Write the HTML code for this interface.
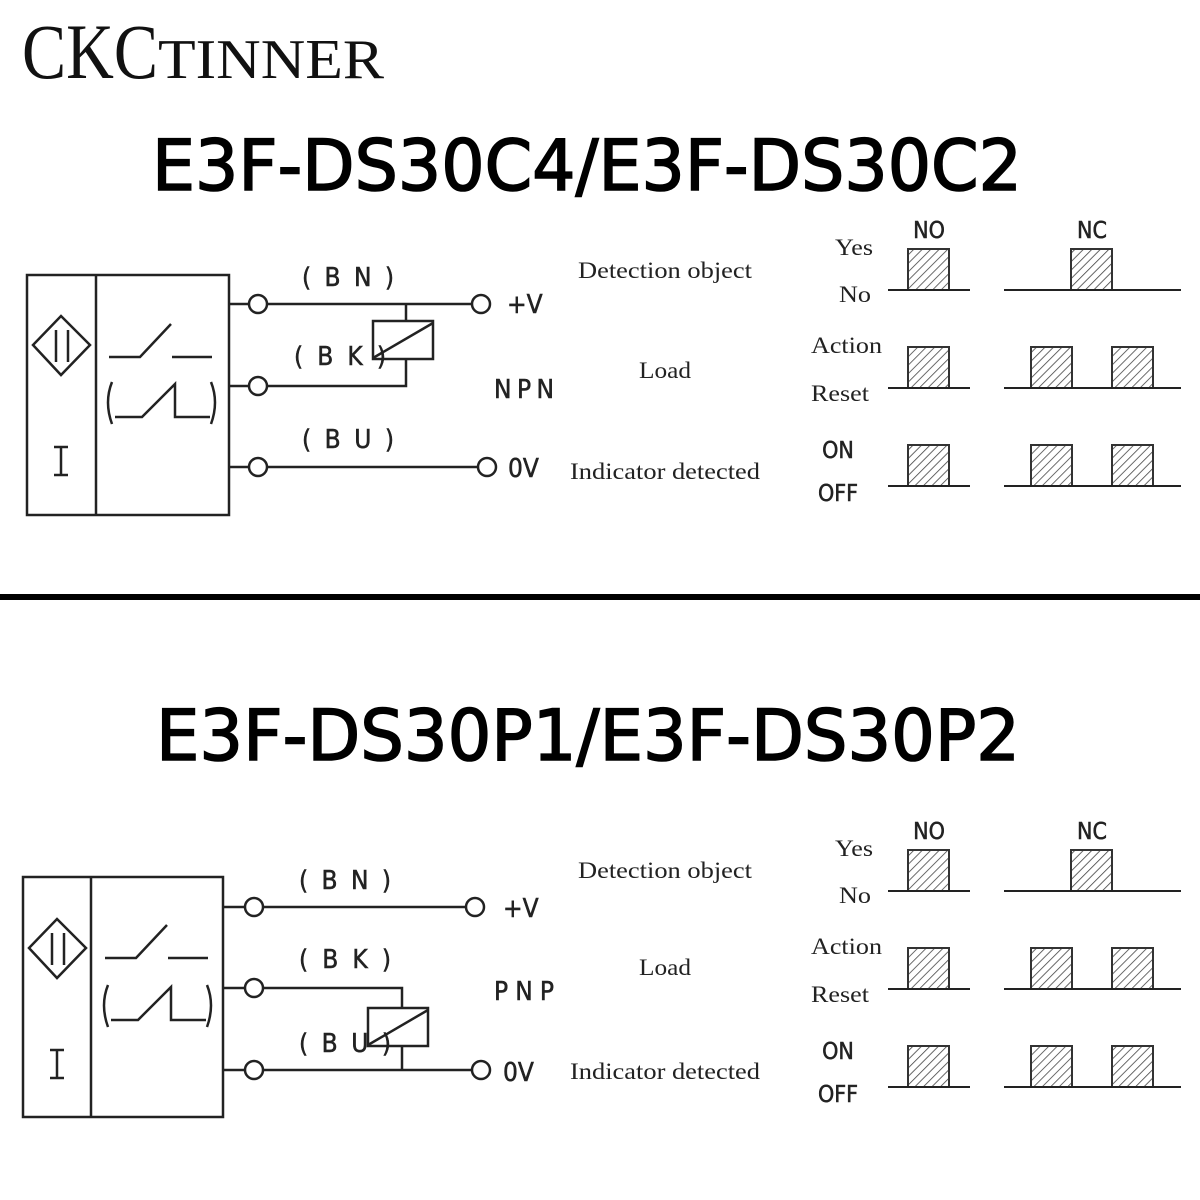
<!DOCTYPE html>
<html><head><meta charset="utf-8"><style>
html,body{margin:0;padding:0;background:#fff;}
svg{display:block;}
.s{font-family:"Liberation Serif",serif;}
.m{font-family:"DejaVu Sans Condensed","Liberation Sans",sans-serif;}
</style></head><body>
<svg width="1200" height="1200" viewBox="0 0 1200 1200" xmlns="http://www.w3.org/2000/svg">
<defs>
<pattern id="h" patternUnits="userSpaceOnUse" width="6" height="6" patternTransform="rotate(45)">
<rect width="6" height="6" fill="#fff"/><line x1="0" y1="0" x2="0" y2="6" stroke="#444" stroke-width="1.6"/>
</pattern>
</defs>
<rect width="1200" height="1200" fill="#fff"/>
<text x="22" y="78" class="s" font-size="78" fill="#111" textLength="136" lengthAdjust="spacingAndGlyphs">CKC</text>
<text x="158" y="78" class="s" font-size="56" fill="#111" textLength="226" lengthAdjust="spacingAndGlyphs">TINNER</text>
<text x="152" y="190" font-family="DejaVu Sans,sans-serif" font-size="70" fill="#000" stroke="#000" stroke-width="1.6" textLength="870" lengthAdjust="spacingAndGlyphs">E3F-DS30C4/E3F-DS30C2</text>
<text x="156" y="760" font-family="DejaVu Sans,sans-serif" font-size="70" fill="#000" stroke="#000" stroke-width="1.6" textLength="864" lengthAdjust="spacingAndGlyphs">E3F-DS30P1/E3F-DS30P2</text>
<rect x="0" y="594" width="1200" height="6" fill="#000"/>

<!-- TOP circuit -->
<g fill="none" stroke="#222" stroke-width="2.5">
<rect x="27" y="275" width="202" height="240"/>
<line x1="96" y1="275" x2="96" y2="515"/>
<polygon points="61,316 90,345 61,375 33,345"/>
<line x1="56" y1="330" x2="56" y2="362"/><line x1="68" y1="330" x2="68" y2="362"/>
<polyline points="109,357 140,357 171,324"/><line x1="172" y1="357" x2="212" y2="357"/>
<path d="M112 382 Q104 402 112 424"/><path d="M211 382 Q219 402 211 424"/>
<polyline points="115,417 142,417 175,384 175,417 210,417"/>
<line x1="54" y1="447" x2="68" y2="447"/><line x1="61" y1="447" x2="61" y2="475"/><line x1="54" y1="475" x2="68" y2="475"/>
<line x1="229" y1="304" x2="249" y2="304"/><circle cx="258" cy="304" r="9"/><line x1="267" y1="304" x2="472" y2="304"/><circle cx="481" cy="304" r="9"/>
<line x1="229" y1="386" x2="249" y2="386"/><circle cx="258" cy="386" r="9"/><polyline points="267,386 406,386 406,359"/>
<line x1="406" y1="304" x2="406" y2="321"/>
<rect x="373" y="321" width="60" height="38"/><line x1="373" y1="358" x2="433" y2="323"/>
<line x1="229" y1="467" x2="249" y2="467"/><circle cx="258" cy="467" r="9"/><line x1="267" y1="467" x2="478" y2="467"/><circle cx="487" cy="467" r="9"/>
</g>
<g class="m" fill="#222" font-size="26" stroke="#222" stroke-width="0.5">
<text x="348" y="286" text-anchor="middle" textLength="92" lengthAdjust="spacing">( B N )</text>
<text x="340" y="365" text-anchor="middle" textLength="92" lengthAdjust="spacing">( B K )</text>
<text x="348" y="448" text-anchor="middle" textLength="92" lengthAdjust="spacing">( B U )</text>
<text x="507" y="313">+V</text>
<text x="508" y="477">0V</text>
<text x="494" y="398" textLength="60" lengthAdjust="spacing">NPN</text>
</g>
<!-- BOTTOM circuit -->
<g fill="none" stroke="#222" stroke-width="2.5">
<rect x="23" y="877" width="200" height="240"/>
<line x1="91" y1="877" x2="91" y2="1117"/>
<polygon points="57,919 86,948 57,978 29,948"/>
<line x1="52" y1="933" x2="52" y2="965"/><line x1="64" y1="933" x2="64" y2="965"/>
<polyline points="105,958 136,958 167,925"/><line x1="168" y1="958" x2="208" y2="958"/>
<path d="M108 985 Q100 1005 108 1027"/><path d="M207 985 Q215 1005 207 1027"/>
<polyline points="111,1020 138,1020 171,987 171,1020 206,1020"/>
<line x1="50" y1="1050" x2="64" y2="1050"/><line x1="57" y1="1050" x2="57" y2="1078"/><line x1="50" y1="1078" x2="64" y2="1078"/>
<line x1="223" y1="907" x2="245" y2="907"/><circle cx="254" cy="907" r="9"/><line x1="263" y1="907" x2="466" y2="907"/><circle cx="475" cy="907" r="9"/>
<line x1="223" y1="988" x2="245" y2="988"/><circle cx="254" cy="988" r="9"/><polyline points="263,988 402,988 402,1008"/>
<rect x="368" y="1008" width="60" height="38"/><line x1="368" y1="1045" x2="428" y2="1010"/>
<line x1="402" y1="1046" x2="402" y2="1070"/>
<line x1="223" y1="1070" x2="245" y2="1070"/><circle cx="254" cy="1070" r="9"/><line x1="263" y1="1070" x2="472" y2="1070"/><circle cx="481" cy="1070" r="9"/>
</g>
<g class="m" fill="#222" font-size="26" stroke="#222" stroke-width="0.5">
<text x="345" y="889" text-anchor="middle" textLength="92" lengthAdjust="spacing">( B N )</text>
<text x="345" y="968" text-anchor="middle" textLength="92" lengthAdjust="spacing">( B K )</text>
<text x="345" y="1052" text-anchor="middle" textLength="92" lengthAdjust="spacing">( B U )</text>
<text x="503" y="917">+V</text>
<text x="503" y="1081">0V</text>
<text x="494" y="1000" textLength="60" lengthAdjust="spacing">PNP</text>
</g>

<!-- middle texts -->
<g class="s" fill="#222" font-size="23">
<text x="578" y="278" textLength="174" lengthAdjust="spacingAndGlyphs">Detection object</text>
<text x="639" y="378" textLength="52" lengthAdjust="spacingAndGlyphs">Load</text>
<text x="570" y="479" textLength="190" lengthAdjust="spacingAndGlyphs">Indicator detected</text>
<text x="578" y="878" textLength="174" lengthAdjust="spacingAndGlyphs">Detection object</text>
<text x="639" y="975" textLength="52" lengthAdjust="spacingAndGlyphs">Load</text>
<text x="570" y="1079" textLength="190" lengthAdjust="spacingAndGlyphs">Indicator detected</text>
</g>

<!-- timing top -->
<g id="t">
<g class="s" fill="#222" font-size="23">
<text x="835" y="255" textLength="38" lengthAdjust="spacingAndGlyphs">Yes</text><text x="839" y="302" textLength="32" lengthAdjust="spacingAndGlyphs">No</text>
<text x="811" y="353" textLength="71" lengthAdjust="spacingAndGlyphs">Action</text><text x="811" y="401" textLength="58" lengthAdjust="spacingAndGlyphs">Reset</text>
</g>
<g class="m" fill="#222" font-size="23" text-anchor="middle" stroke="#222" stroke-width="0.5">
<text x="929" y="238">NO</text><text x="1092" y="238">NC</text>
<text x="838" y="458">ON</text><text x="838" y="501">OFF</text>
</g>
<g stroke="#333" stroke-width="2" fill="url(#h)">
<rect x="908" y="249" width="41" height="41"/><rect x="1071" y="249" width="41" height="41"/>
<rect x="908" y="347" width="41" height="41"/><rect x="1031" y="347" width="41" height="41"/><rect x="1112" y="347" width="41" height="41"/>
<rect x="908" y="445" width="41" height="41"/><rect x="1031" y="445" width="41" height="41"/><rect x="1112" y="445" width="41" height="41"/>
</g>
<g stroke="#222" stroke-width="2">
<line x1="888" y1="290" x2="970" y2="290"/><line x1="1004" y1="290" x2="1181" y2="290"/>
<line x1="888" y1="388" x2="970" y2="388"/><line x1="1004" y1="388" x2="1181" y2="388"/>
<line x1="888" y1="486" x2="970" y2="486"/><line x1="1004" y1="486" x2="1181" y2="486"/>
</g>
</g>
<use href="#t" transform="translate(0,601)"/>
</svg>
</body></html>
